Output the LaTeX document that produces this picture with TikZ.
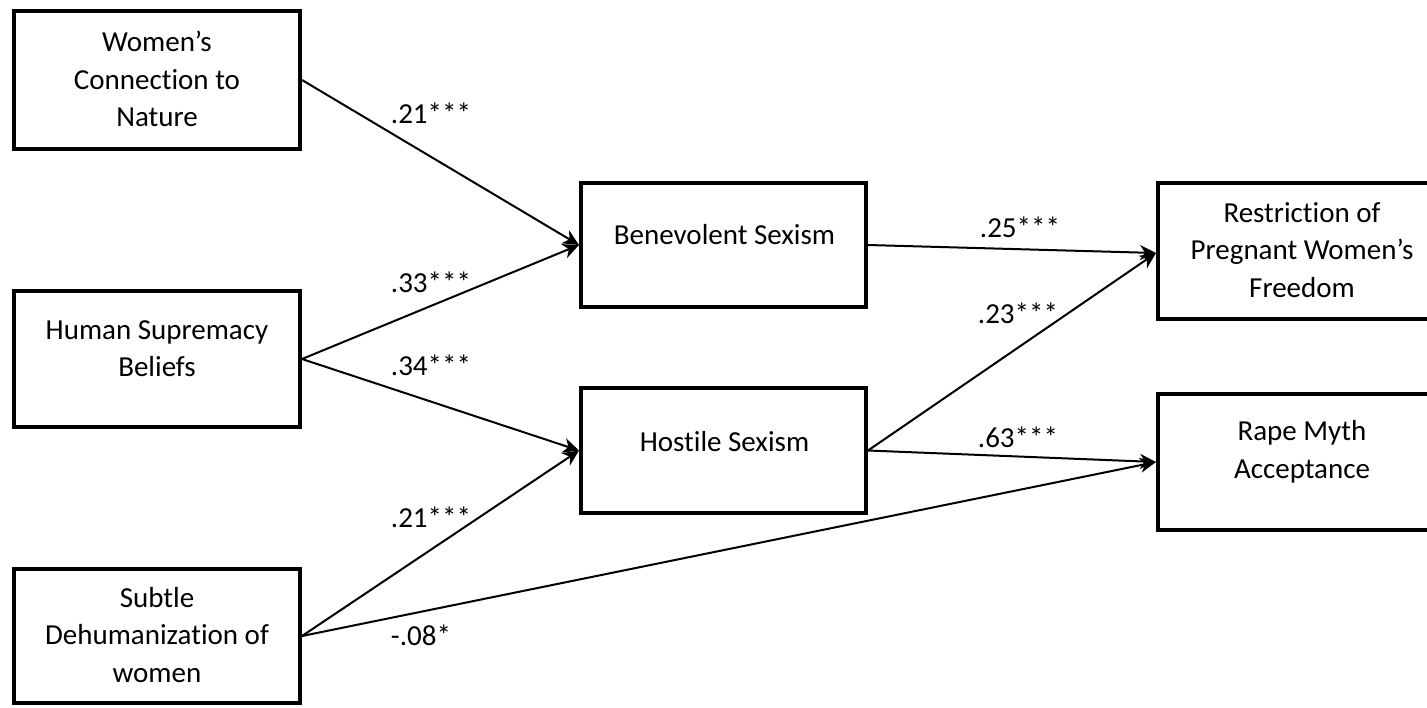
\documentclass[tikz,border=0pt]{standalone}
\usepackage{fontspec}
\setmainfont{Carlito}[Ligatures=NoCommon]
\usetikzlibrary{arrows.meta}
\begin{document}
\begin{tikzpicture}[x=1pt,y=-1pt,
  box/.style={draw, line width=4pt, minimum width=286pt, minimum height=136pt, inner sep=0pt},
  boxtext/.style={align=center, font=\fontsize{29}{37.5}\selectfont, inner sep=0pt},
  coef/.style={font=\fontsize{29}{35}\selectfont, inner sep=0pt},
  arr/.style={line width=2pt, -{Stealth[length=16pt,width=15pt,inset=5pt]}}]
\useasboundingbox (0,0) rectangle (1427,707);
% boxes
\node[box, minimum height=138pt] (wcn) at (157,80) {};
\node[box] (hsb) at (157,359) {};
\node[box, minimum height=134pt] (sdw) at (157,636) {};
\node[box, minimum width=285pt, minimum height=124pt] (bs) at (723.5,245) {};
\node[box, minimum width=285pt, minimum height=125pt] (hs) at (723.5,450.5) {};
\node[box] (rpw) at (1301,251) {};
\node[box] (rma) at (1301,462) {};
% texts
\node[boxtext] (wcnt) at (157,79) {Women’s\\Connection to\\Nature};
\node[boxtext] (hsbt) at (157,348.5) {Human Supremacy\\Beliefs};
\node[boxtext] (sdwt) at (157,635) {Subtle\\Dehumanization of\\women};
\node[boxtext] (bst) at (724.5,235) {Benevolent Sexism};
\node[boxtext] (hst) at (724.5,442) {Hostile Sexism};
\node[boxtext] (rpwt) at (1302,250) {Restriction of\\Pregnant Women’s\\Freedom};
\node[boxtext] (rmat) at (1302,452) {Rape Myth\\Acceptance};
% connectors
\draw[arr] (wcn.east) -- (bs.west);
\draw[arr] (hsb.east) -- (bs.west);
\draw[arr] (hsb.east) -- (hs.west);
\draw[arr] (sdw.east) -- (hs.west);
\draw[arr] (sdw.east) -- (rma.west);
\draw[arr] (bs.east) -- ([yshift=-2pt]rpw.west);
\draw[arr] (hs.east) -- ([yshift=-2pt]rpw.west);
\draw[arr] (hs.east) -- (rma.west);
% coefficients
\node[coef] (c1) at (431,113) {.21***};
\node[coef] (c2) at (431,282) {.33***};
\node[coef] (c3) at (431,365) {.34***};
\node[coef] (c4) at (431,517) {.21***};
\node[coef] (c5) at (421,635) {-.08*};
\node[coef] (c6) at (1020,227) {.25***};
\node[coef] (c7) at (1018,313) {.23***};
\node[coef] (c8) at (1018,437) {.63***};
\end{tikzpicture}
\end{document}
